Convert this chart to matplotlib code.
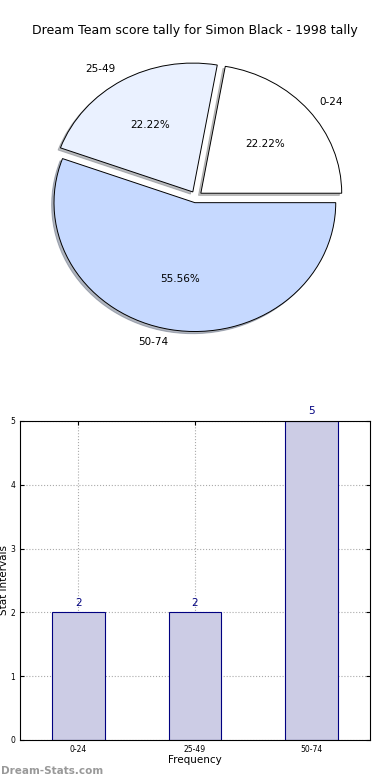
import numpy as np
import matplotlib.pyplot as plt

# tally data
intervals = ['0-24', '25-49', '50-74']
counts = [2, 2, 5]
pie_colors = ['#ffffff', '#eaf1ff', '#c6d9ff']

fig = plt.figure(figsize=(3.9, 7.8), dpi=100)

fig.text(0.5, 0.961, 'Dream Team score tally for Simon Black - 1998 tally',
         ha='center', va='center', fontsize=9)

# pie is drawn on a non-square axes, so it comes out slightly squashed
ax1 = fig.add_axes([0.051, 0.541, 0.903, 0.413])
wedges, texts, autotexts = ax1.pie(counts, labels=intervals, colors=pie_colors,
                                   explode=(0.045, 0.045, 0.045), autopct='%.2f%%',
                                   shadow={'ox': -0.012, 'oy': -0.012, 'shade': 0.5},
                                   startangle=0,
                                   wedgeprops={'edgecolor': 'black', 'linewidth': 0.7},
                                   textprops={'fontsize': 7.5})
ax1.set_aspect('auto')

ax2 = fig.add_axes([0.051, 0.0513, 0.898, 0.409])
x = np.arange(len(intervals))
bars = ax2.bar(x, counts, width=0.45, color='#ccccE5', edgecolor='#000080',
               linewidth=0.8, zorder=2)
for xi, c in zip(x, counts):
    ax2.text(xi, c + 0.07, str(c), ha='center', va='bottom', color='#000080',
             fontsize=7.5)
ax2.set_xlim(-0.5, 2.5)
ax2.set_ylim(0, 5)
ax2.set_xticks(x)
ax2.set_xticklabels(intervals)
ax2.set_yticks(range(6))
ax2.tick_params(labelsize=5.5, length=3, direction='in', top=True, right=True)
ax2.grid(True, linestyle=':', color='#aaaaaa', linewidth=0.8, zorder=3)
ax2.set_xlabel('Frequency', fontsize=7.5, labelpad=1)
ax2.set_ylabel('Stat Intervals', fontsize=7.5, labelpad=1)

fig.text(0.003, 0.012, 'Dream-Stats.com', fontsize=7.5, color='#999999',
         fontweight='bold', ha='left', va='center')

fig.savefig('out.png', dpi=100)
